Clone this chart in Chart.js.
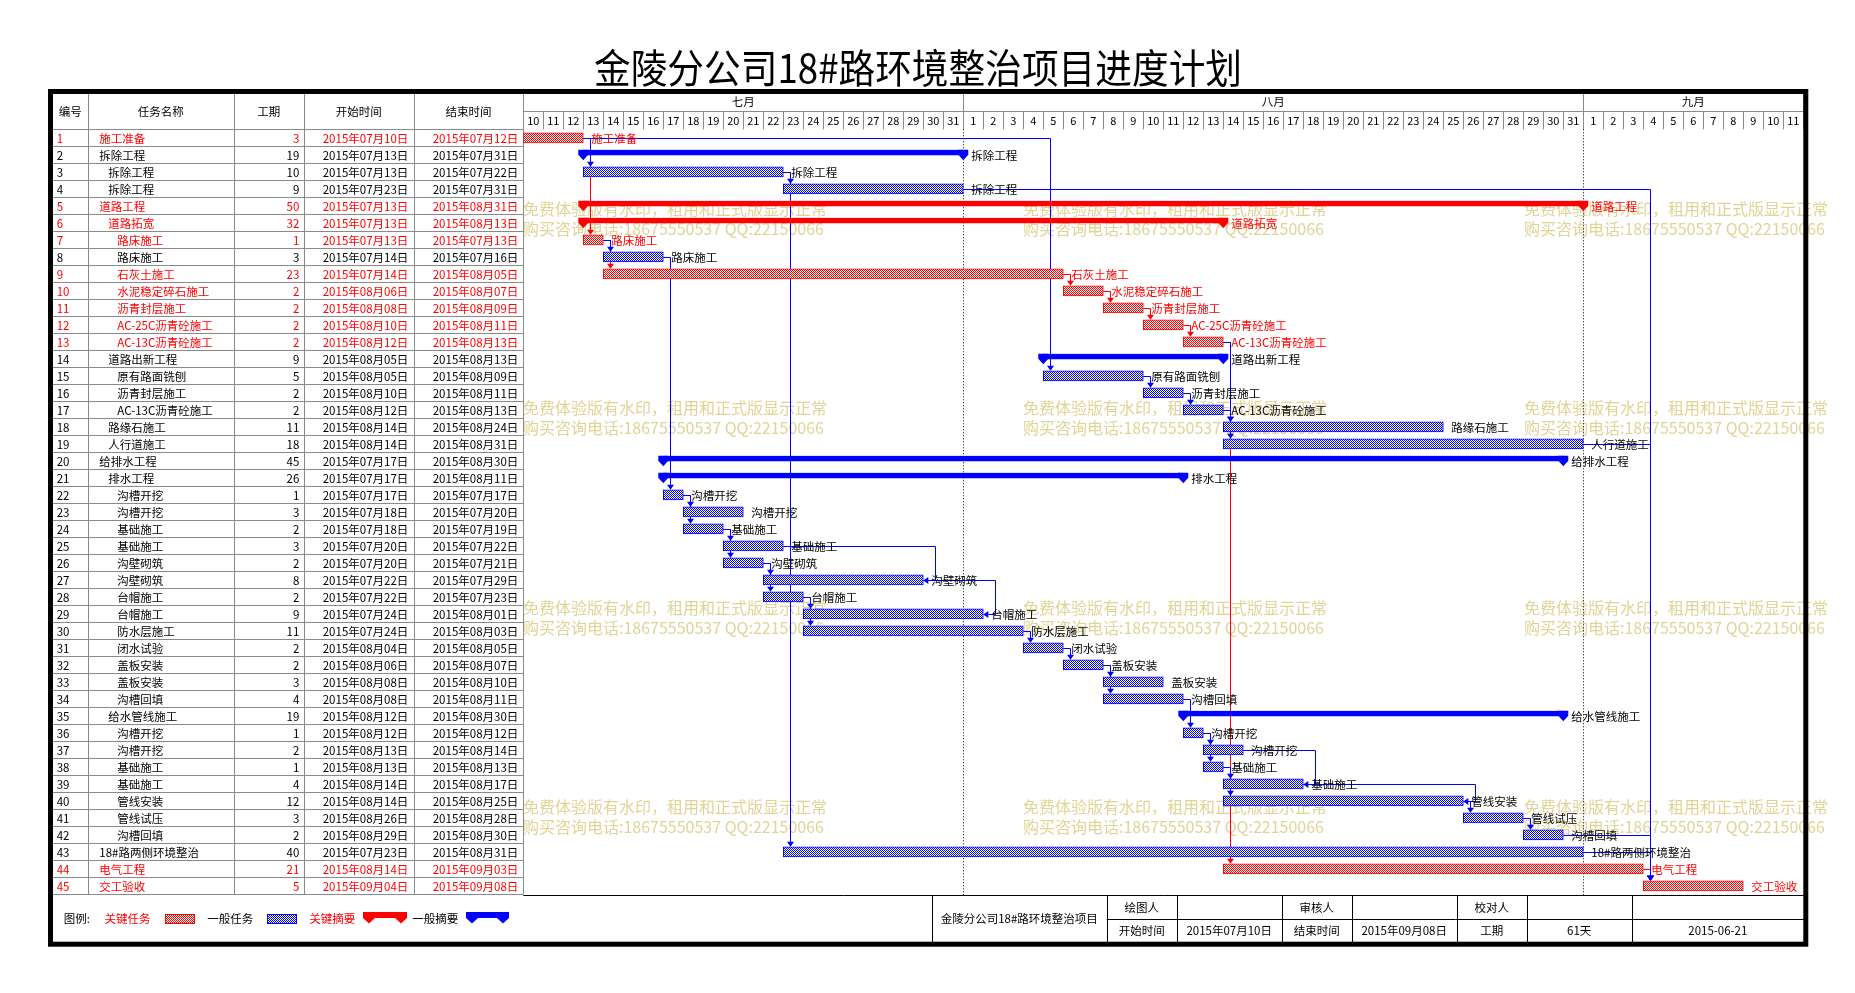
<!DOCTYPE html>
<html>
<head>
<meta charset="utf-8">
<script src="https://cdn.jsdelivr.net/npm/chart.js@4.4.0/dist/chart.umd.min.js"></script>
<style>
  html, body { margin: 0; padding: 0; background: #fff; }
  canvas { display: block; }
</style>
</head>
<body>
<canvas id="gantt" width="1855" height="993"></canvas>
<script>
const chartTitle = "金陵分公司18#路环境整治项目进度计划";

const taskNames = ["施工准备","拆除工程","拆除工程","拆除工程","道路工程","道路拓宽","路床施工","路床施工","石灰土施工",
  "水泥稳定碎石施工","沥青封层施工","AC-25C沥青砼施工","AC-13C沥青砼施工","道路出新工程","原有路面铣刨","沥青封层施工",
  "AC-13C沥青砼施工","路缘石施工","人行道施工","给排水工程","排水工程","沟槽开挖","沟槽开挖","基础施工","基础施工",
  "沟壁砌筑","沟壁砌筑","台帽施工","台帽施工","防水层施工","闭水试验","盖板安装","盖板安装","沟槽回填","给水管线施工",
  "沟槽开挖","沟槽开挖","基础施工","基础施工","管线安装","管线试压","沟槽回填","18#路两侧环境整治","电气工程","交工验收"];
const taskLevels = [0,0,1,1,0,1,2,2,2,2,2,2,2,1,2,2,2,1,1,0,1,
  2,2,2,2,2,2,2,2,2,2,2,2,2,1,2,2,2,2,2,2,2,0,0,0];
const durations = [3,19,10,9,50,32,1,3,23,2,2,2,2,9,5,2,2,11,18,45,26,1,3,2,3,2,8,2,9,11,2,2,3,4,19,1,2,1,4,12,3,2,40,21,5];
const startDates = ["2015年07月10日","2015年07月13日","2015年07月13日","2015年07月23日","2015年07月13日","2015年07月13日",
  "2015年07月13日","2015年07月14日","2015年07月14日","2015年08月06日","2015年08月08日","2015年08月10日","2015年08月12日",
  "2015年08月05日","2015年08月05日","2015年08月10日","2015年08月12日","2015年08月14日","2015年08月14日","2015年07月17日",
  "2015年07月17日","2015年07月17日","2015年07月18日","2015年07月18日","2015年07月20日","2015年07月20日","2015年07月22日",
  "2015年07月22日","2015年07月24日","2015年07月24日","2015年08月04日","2015年08月06日","2015年08月08日","2015年08月08日",
  "2015年08月12日","2015年08月12日","2015年08月13日","2015年08月13日","2015年08月14日","2015年08月14日","2015年08月26日",
  "2015年08月29日","2015年07月23日","2015年08月14日","2015年09月04日"];
const endDates = ["2015年07月12日","2015年07月31日","2015年07月22日","2015年07月31日","2015年08月31日","2015年08月13日",
  "2015年07月13日","2015年07月16日","2015年08月05日","2015年08月07日","2015年08月09日","2015年08月11日","2015年08月13日",
  "2015年08月13日","2015年08月09日","2015年08月11日","2015年08月13日","2015年08月24日","2015年08月31日","2015年08月30日",
  "2015年08月11日","2015年07月17日","2015年07月20日","2015年07月19日","2015年07月22日","2015年07月21日","2015年07月29日",
  "2015年07月23日","2015年08月01日","2015年08月03日","2015年08月05日","2015年08月07日","2015年08月10日","2015年08月11日",
  "2015年08月30日","2015年08月12日","2015年08月14日","2015年08月13日","2015年08月17日","2015年08月25日","2015年08月28日",
  "2015年08月30日","2015年08月31日","2015年09月03日","2015年09月08日"];
const criticalIds = [1,5,6,7,9,10,11,12,13,44,45];
const summaryIds = [2,5,6,14,20,21,35];
// finish-to-start links (red ones first so blue ones sit on top)
const taskLinks = [[1,7],[7,9],[9,10],[10,11],[11,12],[12,13],[13,44],[44,45],
  [1,3],[1,15],[3,4],[3,43],[4,45],[7,8],[8,22],[13,18],[15,16],[16,17],[17,18],[17,19],
  [22,23],[22,24],[24,25],[24,26],[26,27],[26,28],[28,29],[28,30],[30,31],[31,32],[32,33],[32,34],
  [34,36],[36,37],[36,38],[38,39],[38,40],[40,41],[41,42],[42,45],[43,45],[19,45]];
// finish-to-finish links
const finishLinks = [[25,27],[27,29],[37,39],[39,40]];

const monthNames = ["七月","八月","九月"];
const dayLabels = [10,11,12,13,14,15,16,17,18,19,20,21,22,23,24,25,26,27,28,29,30,31,
  1,2,3,4,5,6,7,8,9,10,11,12,13,14,15,16,17,18,19,20,21,22,23,24,25,26,27,28,29,30,31,
  1,2,3,4,5,6,7,8,9,10,11];

const tableHeaders = ["编号","任务名称","工期","开始时间","结束时间"];
const legendItems = ["关键任务","一般任务","关键摘要","一般摘要"];
const footerRow1 = ["绘图人","","审核人","","校对人","",""];
const footerRow2 = ["开始时间","2015年07月10日","结束时间","2015年09月08日","工期","61天","2015-06-21"];
const watermark = ["免费体验版有水印，租用和正式版显示正常","购买咨询电话:18675550537 QQ:22150066"];

const RED = "#ff0000", BLUE = "#0000ff", GRID = "#8a8a8a";
const FONT = '"Noto Sans CJK SC", "Noto Sans", sans-serif';

function dayOffset(s) {
  const m = s.match(/(\d+)年(\d+)月(\d+)日/);
  return (Date.UTC(+m[1], +m[2] - 1, +m[3]) - Date.UTC(2015, 6, 10)) / 86400000;
}
const spans = startDates.map((s, i) => [dayOffset(s), dayOffset(endDates[i]) + 1]);
const isCrit = i => criticalIds.includes(i + 1);
const isSum = i => summaryIds.includes(i + 1);
const pick = f => spans.map((sp, i) => (f(i) ? sp : null));

const canvas = document.getElementById("gantt");
const ctx0 = canvas.getContext("2d");
function checker(color) {
  const t = document.createElement("canvas");
  t.width = 2; t.height = 2;
  const g = t.getContext("2d");
  g.fillStyle = "#ffffff"; g.fillRect(0, 0, 2, 2);
  g.fillStyle = color; g.fillRect(0, 0, 1, 1); g.fillRect(1, 1, 1, 1);
  return ctx0.createPattern(t, "repeat");
}
const redHatch = checker(RED), blueHatch = checker(BLUE);

// layout (px)
const colX = [53, 87.7, 233.7, 303.7, 413.7, 523.3];
const headTop = 94, monthBot = 111, headBot = 129.3, bodyBot = 894.3;
const ROW = 17;

function put(ctx, s, x, y, color, align, size) {
  ctx.font = (size || 11.5) + "px " + FONT;
  ctx.fillStyle = color || "#000";
  ctx.textAlign = align || "left";
  ctx.textBaseline = "middle";
  ctx.fillText(s, x, y);
}
function line(ctx, x1, y1, x2, y2, color) {
  ctx.strokeStyle = color; ctx.lineWidth = 1;
  ctx.beginPath();
  if (y1 === y2) { y1 = y2 = Math.round(y1) + 0.5; }
  if (x1 === x2) { x1 = x2 = Math.round(x1) + 0.5; }
  ctx.moveTo(x1, y1); ctx.lineTo(x2, y2); ctx.stroke();
}
function summaryShape(ctx, x1, x2, top, h, tw, color) {
  ctx.fillStyle = color;
  ctx.fillRect(x1, top, x2 - x1, h);
  [x1, x2].forEach(xc => {
    ctx.beginPath();
    ctx.moveTo(xc - tw, top); ctx.lineTo(xc + tw, top); ctx.lineTo(xc + tw, top + h);
    ctx.lineTo(xc, top + h + 5.5); ctx.lineTo(xc - tw, top + h);
    ctx.closePath(); ctx.fill();
  });
}

const ganttDecor = {
  id: "ganttDecor",
  beforeDraw(chart) {
    const ctx = chart.ctx, xs = chart.scales.x, ys = chart.scales.y;
    const x0 = xs.getPixelForValue(0), x1 = xs.getPixelForValue(dayLabels.length);
    ctx.save();
    ctx.fillStyle = "#fff"; ctx.fillRect(0, 0, chart.width, chart.height);

    // title
    ctx.font = "38px " + FONT;
    const tw = ctx.measureText(chartTitle).width;
    ctx.save();
    ctx.translate(918, 68); ctx.scale(648 / tw, 1.05);
    put(ctx, chartTitle, 0, 0, "#000", "center", 38);
    ctx.restore();

    // watermark
    [523, 1023, 1524].forEach(wx => {
      [208.5, 408, 607.5, 807].forEach(wy => {
        put(ctx, watermark[0], wx, wy, "#e0d496", "left", 16);
        put(ctx, watermark[1], wx, wy + 20, "#e0d496", "left", 16);
      });
    });

    // table grid
    for (let k = 0; k <= taskNames.length; k++) line(ctx, colX[0], headBot + k * ROW, colX[5], headBot + k * ROW, GRID);
    colX.slice(1).forEach(x => line(ctx, x, headTop, x, bodyBot, GRID));
    tableHeaders.forEach((h, c) => put(ctx, h, (colX[c] + colX[c + 1]) / 2, 111.7, "#000", "center"));
    taskNames.forEach((name, i) => {
      const y = ys.getPixelForValue(i) + 0.5;
      const col = isCrit(i) ? RED : "#000";
      put(ctx, String(i + 1), 56.7, y, col);
      put(ctx, name, 99.3 + 9 * taskLevels[i], y, col);
      put(ctx, String(durations[i]), 299.3, y, col, "right");
      put(ctx, startDates[i], 408.3, y, col, "right");
      put(ctx, endDates[i], 518.3, y, col, "right");
    });

    // timeline header
    line(ctx, x0, monthBot, x1, monthBot, GRID);
    line(ctx, x1, headTop, x1, headBot, GRID);
    let mStart = 0, mi = 0;
    dayLabels.forEach((d, i) => {
      const a = xs.getPixelForValue(i), b = xs.getPixelForValue(i + 1);
      put(ctx, String(d), (a + b) / 2, 120.5, "#000", "center", 11);
      line(ctx, b, monthBot, b, headBot, GRID);
      const last = i === dayLabels.length - 1 || dayLabels[i + 1] === 1;
      if (last) {
        const ms = xs.getPixelForValue(mStart);
        put(ctx, monthNames[mi], (ms + b) / 2, 102, "#000", "center");
        line(ctx, b, headTop, b, monthBot, GRID);
        if (i < dayLabels.length - 1) {
          ctx.save(); ctx.setLineDash([1, 2]);
          line(ctx, b, headBot, b, bodyBot + 1, "#000");
          ctx.restore();
        }
        mStart = i + 1; mi++;
      }
    });

    // footer
    line(ctx, colX[5], 895, x1 + 1, 895, "#000");
    const fx = [931.7, 1106.7, 1176.7, 1281.7, 1351.7, 1456.7, 1526.7, 1631.7, 1804];
    fx.slice(0, 8).forEach(x => line(ctx, x, 895, x, 942, "#000"));
    line(ctx, fx[1], 919.3, fx[8], 919.3, "#000");
    put(ctx, "金陵分公司18#路环境整治项目", (fx[0] + fx[1]) / 2, 918.5, "#000", "center");
    footerRow1.forEach((s, c) => put(ctx, s, (fx[c + 1] + fx[c + 2]) / 2, 907.5, "#000", "center"));
    footerRow2.forEach((s, c) => put(ctx, s, (fx[c + 1] + fx[c + 2]) / 2, 931, "#000", "center"));

    // legend
    put(ctx, "图例:", 63.8, 918.5);
    put(ctx, legendItems[0], 104.6, 918.5, RED);
    ctx.fillStyle = redHatch; ctx.fillRect(165, 914, 30, 10);
    ctx.strokeStyle = RED; ctx.strokeRect(165.5, 914.5, 29, 9);
    put(ctx, legendItems[1], 207.3, 918.5);
    ctx.fillStyle = blueHatch; ctx.fillRect(267, 914, 30, 10);
    ctx.strokeStyle = BLUE; ctx.strokeRect(267.5, 914.5, 29, 9);
    put(ctx, legendItems[2], 309.2, 918.5, RED);
    summaryShape(ctx, 369, 401, 912, 6, 6, RED);
    put(ctx, legendItems[3], 412.3, 918.5);
    summaryShape(ctx, 472, 503, 912, 6, 6, BLUE);

    // outer frame
    ctx.strokeStyle = "#000"; ctx.lineWidth = 5;
    ctx.strokeRect(50.5, 91.5, 1755.3, 852.7);
    ctx.restore();
  },
  beforeDatasetsDraw(chart) {
    const ctx = chart.ctx, xs = chart.scales.x, ys = chart.scales.y;
    ctx.save();
    ctx.lineWidth = 1;
    taskLinks.forEach(([f, t]) => {
      const a = f - 1, b = t - 1;
      const col = isCrit(a) && isCrit(b) ? RED : BLUE;
      const px1 = xs.getPixelForValue(spans[a][1]), py1 = Math.round(ys.getPixelForValue(a)) + 0.5;
      const px2 = Math.round(xs.getPixelForValue(spans[b][0]) + 6.7) + 0.5;
      const top = ys.getPixelForValue(b) - 5;
      ctx.strokeStyle = col;
      ctx.beginPath();
      ctx.moveTo(px1, py1); ctx.lineTo(px2, py1); ctx.lineTo(px2, top - 4);
      ctx.stroke();
      ctx.fillStyle = col;
      ctx.beginPath();
      ctx.moveTo(px2 - 3.5, top - 5); ctx.lineTo(px2 + 3.5, top - 5); ctx.lineTo(px2, top);
      ctx.closePath(); ctx.fill();
    });
    finishLinks.forEach(([f, t]) => {
      const a = f - 1, b = t - 1;
      const px1 = xs.getPixelForValue(spans[a][1]), py1 = Math.round(ys.getPixelForValue(a)) + 0.5;
      const pe = xs.getPixelForValue(spans[b][1]), py2 = Math.round(ys.getPixelForValue(b)) + 0.5;
      const pv = Math.round(Math.max(px1, pe) + 12) + 0.5;
      ctx.strokeStyle = BLUE; ctx.fillStyle = BLUE;
      ctx.beginPath();
      ctx.moveTo(px1, py1); ctx.lineTo(pv, py1); ctx.lineTo(pv, py2); ctx.lineTo(pe + 5, py2);
      ctx.stroke();
      ctx.beginPath();
      ctx.moveTo(pe, py2); ctx.lineTo(pe + 5, py2 - 3.5); ctx.lineTo(pe + 5, py2 + 3.5);
      ctx.closePath(); ctx.fill();
    });
    ctx.restore();
  },
  afterDatasetsDraw(chart) {
    const ctx = chart.ctx, ys = chart.scales.y;
    ctx.save();
    chart.data.datasets.forEach((ds, di) => {
      const meta = chart.getDatasetMeta(di);
      meta.data.forEach((el, i) => {
        if (!ds.data[i]) return;
        if (isSum(i)) {
          const top = el.y - 5;
          ctx.fillStyle = isCrit(i) ? RED : BLUE;
          [el.base, el.x].forEach(xc => {
            ctx.beginPath();
            ctx.moveTo(xc - 5, top); ctx.lineTo(xc + 5, top); ctx.lineTo(xc + 5, top + 5);
            ctx.lineTo(xc, top + 10.5); ctx.lineTo(xc - 5, top + 5);
            ctx.closePath(); ctx.fill();
          });
        }
        put(ctx, taskNames[i], el.x + 8, ys.getPixelForValue(i) + 0.5, isCrit(i) ? RED : "#000", "left", 11.5);
      });
    });
    ctx.restore();
  }
};

new Chart(canvas, {
  type: "bar",
  data: {
    labels: taskNames.map((_, i) => String(i + 1)),
    datasets: [
      { label: legendItems[0], data: pick(i => isCrit(i) && !isSum(i)), backgroundColor: redHatch,
        borderColor: RED, borderWidth: 1, borderSkipped: false, barThickness: 10 },
      { label: legendItems[1], data: pick(i => !isCrit(i) && !isSum(i)), backgroundColor: blueHatch,
        borderColor: BLUE, borderWidth: 1, borderSkipped: false, barThickness: 10 },
      { label: legendItems[2], data: pick(i => isCrit(i) && isSum(i)), backgroundColor: RED,
        borderColor: "rgba(0,0,0,0)", borderWidth: { top: 0, left: 0, right: 0, bottom: 5 }, borderSkipped: false, barThickness: 10 },
      { label: legendItems[3], data: pick(i => !isCrit(i) && isSum(i)), backgroundColor: BLUE,
        borderColor: "rgba(0,0,0,0)", borderWidth: { top: 0, left: 0, right: 0, bottom: 5 }, borderSkipped: false, barThickness: 10 }
    ]
  },
  options: {
    indexAxis: "y",
    responsive: false,
    animation: false,
    devicePixelRatio: 1,
    grouped: false,
    layout: { padding: { left: 523.3, right: 51.7, top: 129.3, bottom: 98.7 } },
    scales: {
      x: { type: "linear", min: 0, max: dayLabels.length, display: false },
      y: { type: "category", display: false, offset: true }
    },
    plugins: { legend: { display: false }, tooltip: { enabled: false } }
  },
  plugins: [ganttDecor]
});
</script>
</body>
</html>
